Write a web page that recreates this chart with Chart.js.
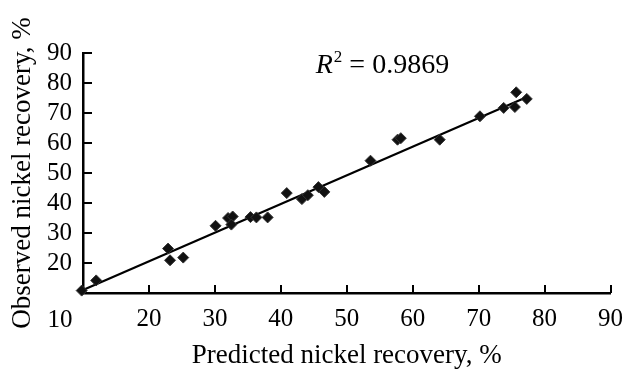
<!DOCTYPE html>
<html>
<head>
<meta charset="utf-8">
<script src="https://cdn.jsdelivr.net/npm/chart.js@4"></script>
<style>
  html, body { margin: 0; padding: 0; background: #fff; }
  #wrap { width: 634px; height: 375px; }
</style>
</head>
<body>
<div id="wrap"><canvas id="c" width="634" height="375"></canvas></div>
<script>
// ---- data ----
const predicted = [9.8, 12.0, 22.9, 23.2, 25.2, 30.1, 32.0, 32.7, 32.5, 35.4, 36.3, 38.0, 40.9, 43.2, 44.1, 45.7, 46.6, 53.6, 57.7, 58.2, 64.1, 70.2, 73.8, 75.5, 75.7, 77.3];
const observed  = [10.8, 14.2, 24.8, 20.9, 21.8, 32.4, 35.0, 35.5, 32.8, 35.3, 35.2, 35.2, 43.3, 41.3, 42.6, 45.3, 43.7, 54.1, 61.1, 61.6, 61.1, 68.9, 71.7, 72.0, 76.9, 74.7];
const trendX = [10, 77.6];
const trendY = [11.0, 75.6];
const xTicks = [10, 20, 30, 40, 50, 60, 70, 80, 90];
const yTicks = [10, 20, 30, 40, 50, 60, 70, 80, 90];
const xTitle = 'Predicted nickel recovery, %';
const yTitle = 'Observed nickel recovery, %';
const r2Value = '0.9869';

const SERIF = '"Liberation Serif", "DejaVu Serif", serif';

const points = predicted.map((x, i) => ({ x: x, y: observed[i] }));
const trend = trendX.map((x, i) => ({ x: x, y: trendY[i] }));

const decor = {
  id: 'decor',
  afterDraw(chart) {
    const ctx = chart.ctx;
    const xs = chart.scales.x, ys = chart.scales.y;
    const area = chart.chartArea;
    ctx.save();
    ctx.strokeStyle = '#000';
    ctx.lineWidth = 2;
    // inward tick marks
    xTicks.slice(1).forEach(v => {
      const px = Math.round(xs.getPixelForValue(v));
      ctx.beginPath();
      ctx.moveTo(px, area.bottom);
      ctx.lineTo(px, area.bottom - 8);
      ctx.stroke();
    });
    yTicks.slice(1).forEach(v => {
      const py = Math.round(ys.getPixelForValue(v));
      ctx.beginPath();
      ctx.moveTo(area.left, py);
      ctx.lineTo(area.left + 9, py);
      ctx.stroke();
    });
    // shared corner label "10"
    ctx.fillStyle = '#000';
    ctx.font = '25px ' + SERIF;
    ctx.textAlign = 'center';
    ctx.textBaseline = 'middle';
    ctx.fillText(String(xTicks[0]), xs.getPixelForValue(xTicks[0]) - 23, area.bottom + 27);
    // R^2 annotation
    let x0 = xs.getPixelForValue(45.3);
    const yb = ys.getPixelForValue(83.4);
    ctx.textAlign = 'left';
    ctx.textBaseline = 'alphabetic';
    ctx.font = 'italic 28px ' + SERIF;
    ctx.fillText('R', x0, yb);
    x0 += ctx.measureText('R').width + 1;
    ctx.font = '17px ' + SERIF;
    ctx.fillText('2', x0, yb - 11);
    x0 += ctx.measureText('2').width;
    ctx.font = '28px ' + SERIF;
    ctx.fillText(' = ' + r2Value, x0, yb);
    ctx.restore();
  }
};

new Chart(document.getElementById('c'), {
  type: 'scatter',
  data: {
    datasets: [
      {
        label: 'data',
        data: points,
        pointStyle: 'rectRot',
        pointRadius: 5.5,
        pointBackgroundColor: '#111',
        pointBorderColor: '#333',
        pointBorderWidth: 1,
        showLine: false,
        clip: false,
        order: 1
      },
      {
        label: 'trend',
        type: 'line',
        data: trend,
        borderColor: '#000',
        borderWidth: 2.2,
        pointRadius: 0,
        fill: false,
        clip: false,
        order: 2
      }
    ]
  },
  options: {
    responsive: false,
    animation: false,
    events: [],
    layout: { padding: { top: 53, right: 22, left: 0, bottom: 0 } },
    plugins: { legend: { display: false }, tooltip: { enabled: false } },
    scales: {
      x: {
        type: 'linear',
        min: 10, max: 90,
        afterBuildTicks: s => { s.ticks = xTicks.map(v => ({ value: v })); },
        afterFit: s => { s.height = 82; },
        grid: { display: false, drawTicks: false },
        border: { display: true, color: '#000', width: 2.5 },
        ticks: {
          color: '#000',
          padding: 11,
          maxRotation: 0,
          autoSkip: false,
          font: { family: SERIF, size: 25 },
          callback: v => (v === xTicks[0] ? '' : String(v))
        },
        title: {
          display: true,
          text: xTitle,
          color: '#000',
          font: { family: SERIF, size: 27 },
          padding: { top: 0, bottom: 3 }
        }
      },
      y: {
        type: 'linear',
        min: 10, max: 90,
        afterBuildTicks: s => { s.ticks = yTicks.map(v => ({ value: v })); },
        afterFit: s => { s.width = 83; },
        grid: { display: false, drawTicks: false },
        border: { display: true, color: '#000', width: 2.5 },
        ticks: {
          color: '#000',
          padding: 11,
          autoSkip: false,
          font: { family: SERIF, size: 25 },
          callback: v => (v === yTicks[0] ? '' : String(v))
        },
        title: {
          display: true,
          text: yTitle,
          color: '#000',
          font: { family: SERIF, size: 27 },
          padding: { top: 7, bottom: 0 }
        }
      }
    }
  },
  plugins: [decor]
});
</script>
</body>
</html>
